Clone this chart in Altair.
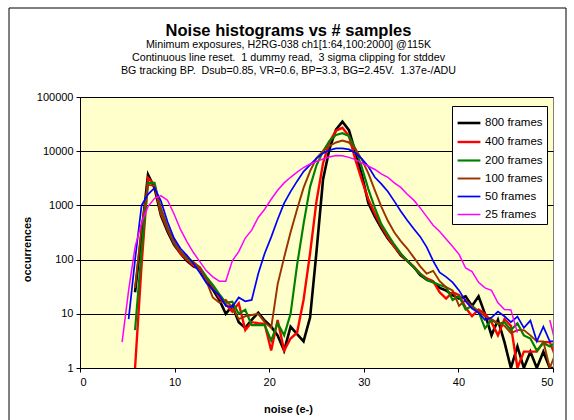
import altair as alt
import pandas as pd

noise_e = [4.45, 5.14, 5.82, 6.51, 7.19, 7.88, 8.56, 9.25, 9.93, 10.62,
           11.30, 11.99, 12.67, 13.36, 14.04, 14.73, 15.41, 16.10, 16.78, 17.47,
           18.15, 18.84, 19.52, 20.21, 20.89, 21.58, 22.26, 22.95, 23.63, 24.32,
           25.00, 25.69, 26.37, 27.06, 27.74, 28.43, 29.11, 29.80, 30.48, 31.17,
           31.85, 32.54, 33.22, 33.91, 34.59, 35.28, 35.96, 36.65, 37.33, 38.02,
           38.70, 39.39, 40.07, 40.76, 41.44, 42.13, 42.81, 43.50, 44.18, 44.87,
           45.55, 46.24, 46.92, 47.61, 48.29, 48.98, 49.66, 50.35]

frames_800 = [None, None, 25, 300, 3700, 2100, 650, 330, 190, 130,
              95, 75, 68, 40, 28, 18, 10, 14, 7, 5.5,
              7.7, 10.5, 7.5, 5.8, 4, 2.1, 5.8, 4.2, 3.1, 8.5,
              140, 3000, 11000, 25000, 35000, 24500, 9500, 3600, 1100, 620,
              380, 245, 175, 120, 95, 73, 52, 43, 39, 30,
              27, 22, 19, 21, 14, 21, 10, 4, 7.7, 3,
              1, 2.5, 1, 2, 1, 2, 1, 1]
frames_400 = [None, None, 1, 80, 3200, 2400, 700, 360, 200, 130,
              100, 78, 68, 46, 32, 20, 15, 11, 15.6, 5,
              7, 6.7, 6.5, 2.1, 7.7, 2.1, 3.5, 4.5, 18, 130,
              1200, 6000, 15000, 24000, 27000, 19000, 7000, 2900, 1300, 700,
              420, 260, 175, 125, 95, 74, 55, 45, 40, 25,
              19, 25, 22, 13, 9, 12, 10, 7, 4, 8,
              6, 1, 2, 2, 2, 3, 3, 1.5]
frames_200 = [None, None, 5, 150, 2600, 2600, 800, 380, 210, 140,
              105, 85, 72, 48, 34, 23, 16, 16.7, 10, 11.8,
              6.2, 6.2, 6.2, 3.2, 6.7, 4, 10, 80, 450, 2200,
              5500, 10000, 15500, 20000, 21500, 19000, 11000, 5000, 2000, 900,
              450, 290, 190, 130, 95, 72, 55, 42, 38, 34,
              31, 18, 21, 12, 14, 11, 5.4, 7.7, 6.5, 7,
              5, 6.7, 4, 3.5, 2.1, 2.9, 2.5, 3]
frames_100 = [None, None, 30, 400, 2400, 2300, 900, 400, 220, 140,
              110, 90, 72, 40, 20, 16, 18, 13, 8, 9,
              9.5, 10, 7, 5.5, 35, 110, 320, 850, 2100, 4300,
              7500, 10000, 12500, 14500, 15700, 14500, 11000, 7000, 3900, 1900,
              950, 520, 320, 220, 160, 110, 75, 55, 62, 40,
              31, 27, 14, 18, 13.5, 11, 9, 8, 6.7, 6,
              4.4, 5, 5, 4, 3.1, 3.1, 1, 2]
frames_50 = [None, 8, 100, 1000, 1600, 2100, 1200, 500, 250, 160,
             120, 85, 57, 37, 28, 22, 14, 13.5, 20, 17,
             18, 55, 130, 260, 550, 1100, 1800, 2800, 4200, 5600,
             7400, 9200, 10500, 11300, 11300, 10800, 9300, 7200, 5200, 3300,
             2500, 1800, 1200, 780, 530, 370, 265, 170, 95, 58,
             48, 38, 27, 17, 12.5, 10.5, 7.7, 8.5, 11, 9,
             7, 8.9, 5.5, 7.5, 3.1, 5.8, 3.1, 3.1]
frames_25 = [3, 27, 170, 480, 950, 1350, 1500, 1250, 700, 360,
             215, 135, 92, 62, 48, 40, 40, 95, 140, 250,
             350, 600, 850, 1300, 1900, 2600, 3300, 4100, 5000, 5800,
             6500, 7200, 7800, 8300, 8200, 7700, 7000, 6000, 5300, 4600,
             3800, 3300, 2600, 2150, 1600, 1250, 900, 620, 430, 330,
             240, 175, 125, 70, 60, 38, 30, 27, 16, 12,
             11.8, 4.5, None, None, 5, None, 7.7, 2.5]

series_names = ["800 frames", "400 frames", "200 frames", "100 frames", "50 frames", "25 frames"]
series_values = [frames_800, frames_400, frames_200, frames_100, frames_50, frames_25]
series_colors = ["#000000", "#FF0000", "#008000", "#993300", "#0000FF", "#FF00FF"]
series_widths = [2.6, 1.5, 1.5, 1.5, 1.5, 1.5]

title_text = "Noise histograms vs # samples"
subtitle_lines = ["Minimum exposures, H2RG-038 ch1[1:64,100:2000] @115K",
                  "Continuous line reset.\u00a0 1 dummy read,\u00a0 3 sigma clipping for stddev",
                  "BG tracking BP.\u00a0 Dsub=0.85, VR=0.6, BP=3.3, BG=2.45V.\u00a0 1.37e-/ADU"]

rows = []
for name, vals in zip(series_names, series_values):
    for xv, yv in zip(noise_e, vals):
        rows.append({"noise": xv, "count": yv, "series": name})
df = pd.DataFrame(rows)

FONT = "Liberation Sans"

lines = alt.Chart(df).mark_line(clip=True, invalid="break-paths-filter-domains").encode(
    x=alt.X("noise:Q",
            scale=alt.Scale(domain=[0, 50], nice=False, zero=False),
            axis=alt.Axis(values=[0, 10, 20, 30, 40, 50], title="noise (e-)", grid=False,
                          tickSize=4, tickColor="black", domainColor="black",
                          labelFontSize=11, labelPadding=4,
                          titleFontSize=11, titleFontWeight="bold",
                          titleX=208, titleY=41, titleBaseline="middle")),
    y=alt.Y("count:Q",
            scale=alt.Scale(type="log", domain=[1, 100000], nice=False),
            axis=alt.Axis(values=[1, 10, 100, 1000, 10000, 100000], format="d",
                          title="occurrences", grid=True, gridColor="black", gridOpacity=1,
                          tickSize=4, tickColor="black", domainColor="black",
                          labelFontSize=11, labelPadding=3,
                          titleFontSize=11, titleFontWeight="bold",
                          titleX=-53, titleY=152, titleAlign="center", titleBaseline="middle")),
    color=alt.Color("series:N", sort=series_names,
                    scale=alt.Scale(domain=series_names, range=series_colors),
                    legend=alt.Legend(title=None, orient="none", legendX=372, legendY=9,
                                      fillColor="white", strokeColor="black", padding=4,
                                      symbolType="stroke", symbolSize=520, symbolStrokeWidth=2,
                                      rowPadding=-1.5, labelFontSize=11.5, labelOffset=3,
                                      labelColor="black", cornerRadius=0)),
    strokeWidth=alt.StrokeWidth("series:N", sort=series_names,
                                scale=alt.Scale(domain=series_names, range=series_widths),
                                legend=None),
    order=alt.Order("noise:Q"),
)

border = alt.Chart(alt.Data(values=[{}])).mark_rect(
    fillOpacity=0, stroke="black", strokeWidth=1, clip=False
).encode(x=alt.value(-71), x2=alt.value(486), y=alt.value(-89), y2=alt.value(340))

chart = alt.layer(lines, border).properties(
    width=473, height=271,
    title=alt.TitleParams(
        text=title_text,
        subtitle=subtitle_lines,
        fontSize=16.5, fontWeight="bold", font=FONT, color="black",
        subtitleFontSize=10.7, subtitleFont=FONT, subtitleColor="black",
        subtitleLineHeight=13, subtitlePadding=0,
        anchor="middle", dx=-28, offset=-68),
    autosize=alt.AutoSizeParams(type="none"),
    padding={"left": 80, "top": 97, "right": 21, "bottom": 52},
).configure(font=FONT, background="white").configure_view(
    fill="#FFFFCC", stroke="#808080", strokeWidth=1
).configure_axis(labelColor="black", titleColor="black", labelFont=FONT, titleFont=FONT)

chart.save("out.html", embed_options={"renderer": "svg", "actions": False})
